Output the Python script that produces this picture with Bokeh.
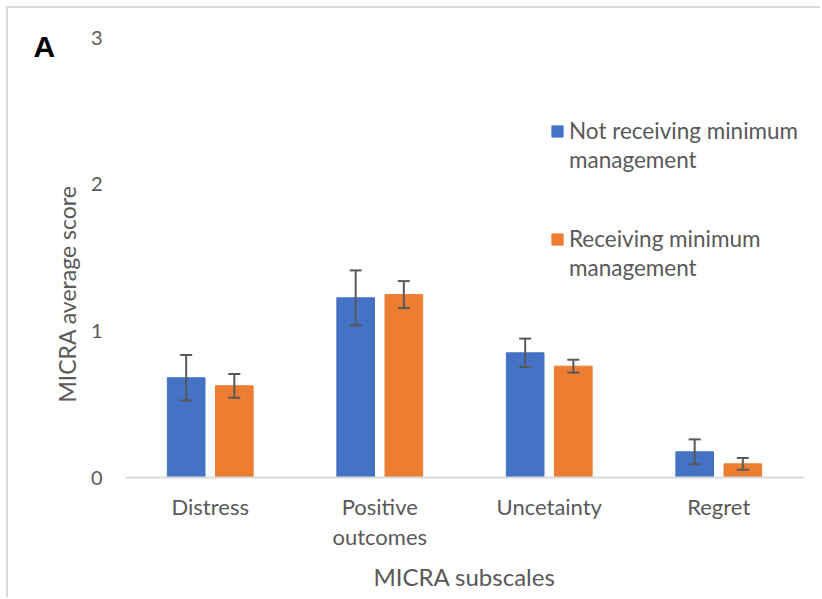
from math import pi

from bokeh.embed import file_html
from bokeh.models import (ColumnDataSource, FixedTicker, Label, Legend,
                          LegendItem, LinearAxis, Range1d, TeeHead, Whisker)
from bokeh.plotting import figure
from bokeh.resources import INLINE
from bokeh.transform import dodge

# MICRA subscale means with error half-widths, per group
categories = ["Distress", "Positive\noutcomes", "Uncetainty", "Regret"]
positions = [0, 1, 2, 3]
not_minimum = [0.68, 1.225, 0.85, 0.175]
not_minimum_err = [0.155, 0.187, 0.097, 0.085]
minimum = [0.625, 1.247, 0.759, 0.093]
minimum_err = [0.081, 0.092, 0.044, 0.040]
y_ticks = [0, 1, 2, 3]

BLUE = "#4472C4"
ORANGE = "#ED7D31"
TEXT = "#595959"
FONT = "Lato"

# canvas geometry (px): the frame fills the canvas, axes sit at fixed spots
CANVAS_W, CANVAS_H = 814, 591
PLOT_LEFT, PLOT_RIGHT = 117, 795      # x = -0.5 .. 3.5
PLOT_TOP, PLOT_BASE = 29, 469         # y = 3 .. 0
px_x = (PLOT_RIGHT - PLOT_LEFT) / 4.0
px_y = (PLOT_BASE - PLOT_TOP) / 3.0

src = ColumnDataSource(dict(
    x=positions,
    a=not_minimum,
    a_lo=[v - e for v, e in zip(not_minimum, not_minimum_err)],
    a_hi=[v + e for v, e in zip(not_minimum, not_minimum_err)],
    b=minimum,
    b_lo=[v - e for v, e in zip(minimum, minimum_err)],
    b_hi=[v + e for v, e in zip(minimum, minimum_err)],
))

p = figure(
    x_range=Range1d(-0.5 - PLOT_LEFT / px_x,
                    3.5 + (CANVAS_W - PLOT_RIGHT) / px_x),
    y_range=Range1d(-(CANVAS_H - PLOT_BASE) / px_y, 3 + PLOT_TOP / px_y),
    width=CANVAS_W, height=CANVAS_H,
    x_axis_type=None, y_axis_type=None,
    min_border=0, min_border_left=0, min_border_right=0,
    min_border_top=0, min_border_bottom=0,
    output_backend="svg", toolbar_location=None,
    styles={"margin-left": "6px", "margin-top": "6px",
            "border-left": "2px solid #d9d9d9",
            "border-top": "2px solid #d9d9d9"},
)
p.outline_line_color = None
p.grid.visible = False

OFF = 0.142
W = 0.222
r_a = p.vbar(x=dodge("x", -OFF), top="a", width=W, source=src,
             fill_color=BLUE, line_color=BLUE)
r_b = p.vbar(x=dodge("x", OFF), top="b", width=W, source=src,
             fill_color=ORANGE, line_color=ORANGE)

for off, lo, hi in ((-OFF, "a_lo", "a_hi"), (OFF, "b_lo", "b_hi")):
    p.add_layout(Whisker(
        source=src, base=dodge("x", off), lower=lo, upper=hi,
        line_color=TEXT, line_width=2, level="annotation",
        upper_head=TeeHead(size=12, line_color=TEXT, line_width=2),
        lower_head=TeeHead(size=12, line_color=TEXT, line_width=2),
    ))

# x axis along y = 0 with category names
xa = LinearAxis(
    fixed_location=0, bounds=(-0.5, 3.5),
    ticker=FixedTicker(ticks=positions),
    major_label_overrides={pos: name for pos, name in zip(positions, categories)},
    axis_line_color="#d9d9d9", axis_line_width=2,
    major_tick_line_color=None, minor_tick_line_color=None,
    major_label_standoff=9, major_label_text_font=FONT,
    major_label_text_font_size="22px", major_label_text_line_height=1.13,
    major_label_text_color=TEXT,
    axis_label="MICRA subscales", axis_label_standoff=9,
    axis_label_text_font=FONT, axis_label_text_font_size="24px",
    axis_label_text_font_style="normal", axis_label_text_color=TEXT,
)
p.add_layout(xa, "below")

# y axis at the left end of the category band
ya = LinearAxis(
    fixed_location=-0.5, bounds=(-0.5, 3.0),
    ticker=FixedTicker(ticks=y_ticks),
    axis_line_color=None,
    major_tick_line_color=None, minor_tick_line_color=None,
    major_label_standoff=17, major_label_text_font=FONT,
    major_label_text_font_size="20px", major_label_text_color=TEXT,
    axis_label="MICRA average score", axis_label_standoff=7,
    axis_label_text_font=FONT, axis_label_text_font_size="23px",
    axis_label_text_font_style="normal", axis_label_text_color=TEXT,
)
p.add_layout(ya, "left")

# panel letter
p.add_layout(Label(x=25, y=CANVAS_H - 38, x_units="screen", y_units="screen",
                   text="A", text_align="left", text_baseline="alphabetic",
                   text_font="Liberation Sans", text_font_style="bold",
                   text_font_size="30px", text_color="black"))

# legend: square beside the first line of each two-line entry
spacer = p.vbar(x=[], top=[], width=W, fill_alpha=0, line_alpha=0)


def legend_block(first, rest, renderer, bottom_y):
    return Legend(
        items=[LegendItem(label=first, renderers=[renderer]),
               LegendItem(label=rest, renderers=[spacer])],
        location=(542, bottom_y), orientation="vertical",
        glyph_width=14, glyph_height=14, label_standoff=5, spacing=2,
        padding=0, margin=0, border_line_color=None, background_fill_alpha=0,
        label_text_font=FONT, label_text_font_size="22.5px",
        label_text_color=TEXT,
    )


p.add_layout(legend_block("Not receiving minimum", "management", r_a, 426))
p.add_layout(legend_block("Receiving minimum", "management", r_b, 318))

open("out.html", "w").write(file_html(p, INLINE))
